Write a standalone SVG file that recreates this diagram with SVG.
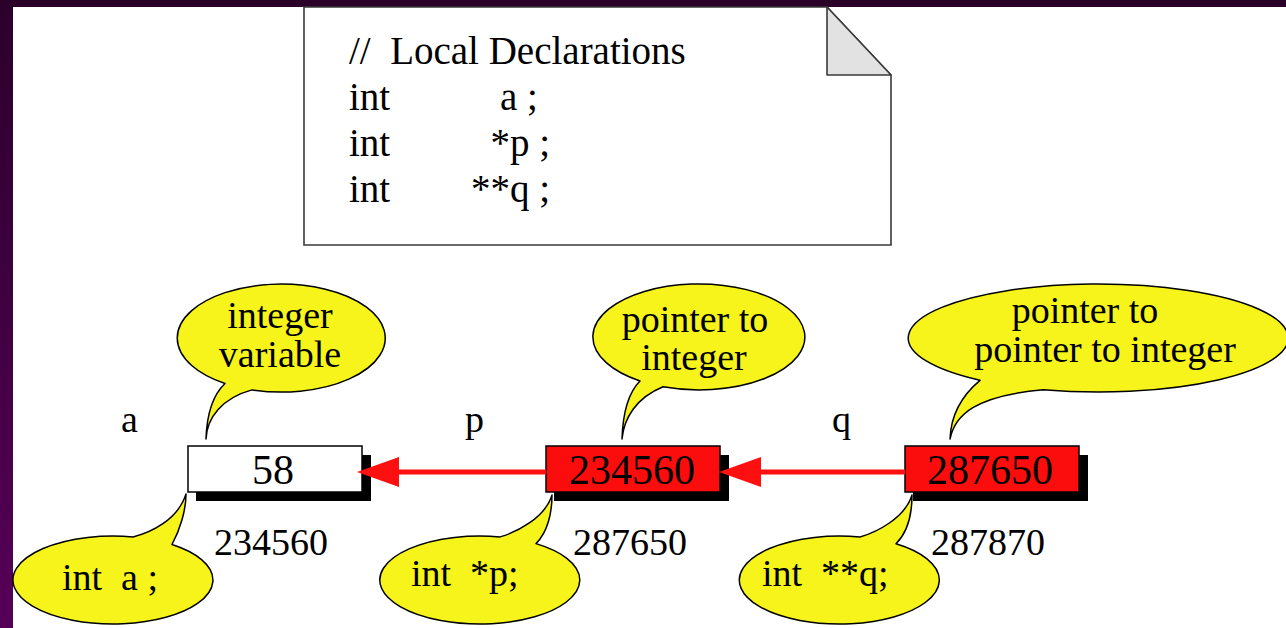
<svg xmlns="http://www.w3.org/2000/svg" width="1286" height="628" viewBox="0 0 1286 628">
  <defs>
    <linearGradient id="bandGrad" x1="0" y1="0" x2="0" y2="1">
      <stop offset="0" stop-color="#2b002b"/>
      <stop offset="1" stop-color="#560058"/>
    </linearGradient>
    <marker id="head" viewBox="0 0 42 30" refX="0" refY="15" markerWidth="42" markerHeight="30" markerUnits="userSpaceOnUse" orient="auto">
      <path d="M0,0 L42,15 L0,30 Z" fill="#ff1010"/>
    </marker>
    <style>
      text { font-family: 'Liberation Serif', 'DejaVu Serif', serif; fill: #000; white-space: pre; }
      .code { font-size: 39px; }
      .bub { font-size: 38px; }
      .lbl { font-size: 38px; }
      .val { font-size: 42px; }
      .callout { fill: #f6f41a; stroke: #000; stroke-width: 1.5; stroke-linejoin: round; }
      .cell { stroke: #000; stroke-width: 1.5; }
      .shadow { fill: #000; }
      .link { stroke: #ff1010; stroke-width: 5; fill: none; marker-end: url(#head); }
    </style>
  </defs>

  <!-- page background and frame bands -->
  <rect x="0" y="0" width="1286" height="628" fill="#ffffff"/>
  <rect x="0" y="0" width="1286" height="7" fill="#2a0028"/>
  <rect x="0" y="0" width="13" height="628" fill="url(#bandGrad)"/>

  <g font-family="Liberation Serif, DejaVu Serif, serif">
  <!-- declarations note with folded corner -->
  <g id="note">
    <path d="M304,7 L827,7 L891,75 L891,245 L304,245 Z" fill="#ffffff" stroke="#3a3a3a" stroke-width="1.6"/>
    <path d="M827,7 L827,75 L891,75 Z" fill="#e2e2e2" stroke="#3a3a3a" stroke-width="1.6" stroke-linejoin="round"/>
    <text class="code" x="349" y="64" xml:space="preserve">//  Local Declarations</text>
    <text class="code" x="349" y="110">int</text>
    <text class="code" x="500" y="110" xml:space="preserve">a ;</text>
    <text class="code" x="349" y="156">int</text>
    <text class="code" x="550" y="156" text-anchor="end" xml:space="preserve">*p ;</text>
    <text class="code" x="349" y="202">int</text>
    <text class="code" x="550" y="202" text-anchor="end" xml:space="preserve">**q ;</text>
  </g>

  <!-- variable a -->
  <g id="var-a">
    <text class="lbl" x="121" y="432">a</text>
    <rect class="shadow" x="196" y="455" width="175" height="46"/>
    <rect class="cell" x="188" y="446" width="174" height="46" fill="#ffffff"/>
    <text class="val" x="273" y="484" text-anchor="middle">58</text>
    <text class="lbl" x="214" y="555">234560</text>
  </g>

  <!-- variable p -->
  <g id="var-p">
    <text class="lbl" x="465" y="432">p</text>
    <rect class="shadow" x="554" y="455" width="175" height="46"/>
    <rect class="cell" x="546" y="446" width="174" height="46" fill="#fc0d0d"/>
    <text class="val" x="632" y="484" text-anchor="middle">234560</text>
    <text class="lbl" x="573" y="555">287650</text>
  </g>

  <!-- variable q -->
  <g id="var-q">
    <text class="lbl" x="832" y="432">q</text>
    <rect class="shadow" x="913" y="455" width="175" height="46"/>
    <rect class="cell" x="905" y="446" width="174" height="46" fill="#fc0d0d"/>
    <text class="val" x="990" y="484" text-anchor="middle">287650</text>
    <text class="lbl" x="931" y="555">287870</text>
  </g>

  <!-- pointer links, drawn over the cells so the heads overlap them -->
  <g id="connectors">
    <line class="link" x1="546" y1="472" x2="399" y2="472"/>
    <line class="link" x1="905" y1="472" x2="761" y2="472"/>
  </g>

  <!-- callouts above the cells -->
  <g id="callout-integer-variable">
    <path class="callout" d="M252,389.9 A104,54 0 1 0 225,383.5 C216,392 207,408 206,439 C207,418 222,398 252,389.9 Z"/>
    <text class="bub" x="280" y="328" text-anchor="middle">integer</text>
    <text class="bub" x="280" y="367" text-anchor="middle">variable</text>
  </g>

  <g id="callout-pointer-to-integer">
    <path class="callout" d="M663,386.8 A106,53 0 1 0 640,381 C631,390 623,408 622,439 C624,418 636,398 663,386.8 Z"/>
    <text class="bub" x="695" y="332" text-anchor="middle">pointer to</text>
    <text class="bub" x="694" y="370" text-anchor="middle">integer</text>
  </g>

  <g id="callout-pointer-to-pointer">
    <path class="callout" d="M1043,389.7 A190,54 0 1 0 980,380.3 C966,392 951,410 950,439 C955,415 975,396 1043,389.7 Z"/>
    <text class="bub" x="1085" y="323" text-anchor="middle">pointer to</text>
    <text class="bub" x="1105" y="362" text-anchor="middle">pointer to integer</text>
  </g>

  <!-- callouts below the cells -->
  <g id="callout-decl-a">
    <path class="callout" d="M172,544.5 A100,44 0 1 1 133,536.9 C150,533 178,520 186,494 C186,510 180,530 172,544.5 Z"/>
    <text class="bub" x="62" y="590" xml:space="preserve">int  a ;</text>
  </g>

  <g id="callout-decl-p">
    <path class="callout" d="M536,543.6 A100,44 0 1 1 500,536.9 C517,532 545,518 552,495 C552,512 548,532 536,543.6 Z"/>
    <text class="bub" x="411" y="586" xml:space="preserve">int  *p;</text>
  </g>

  <g id="callout-decl-q">
    <path class="callout" d="M896,543.8 A100,44 0 1 1 860,537 C877,532 905,518 912,495 C912,512 908,532 896,543.8 Z"/>
    <text class="bub" x="762" y="586" xml:space="preserve">int  **q;</text>
  </g>
  </g>
</svg>
